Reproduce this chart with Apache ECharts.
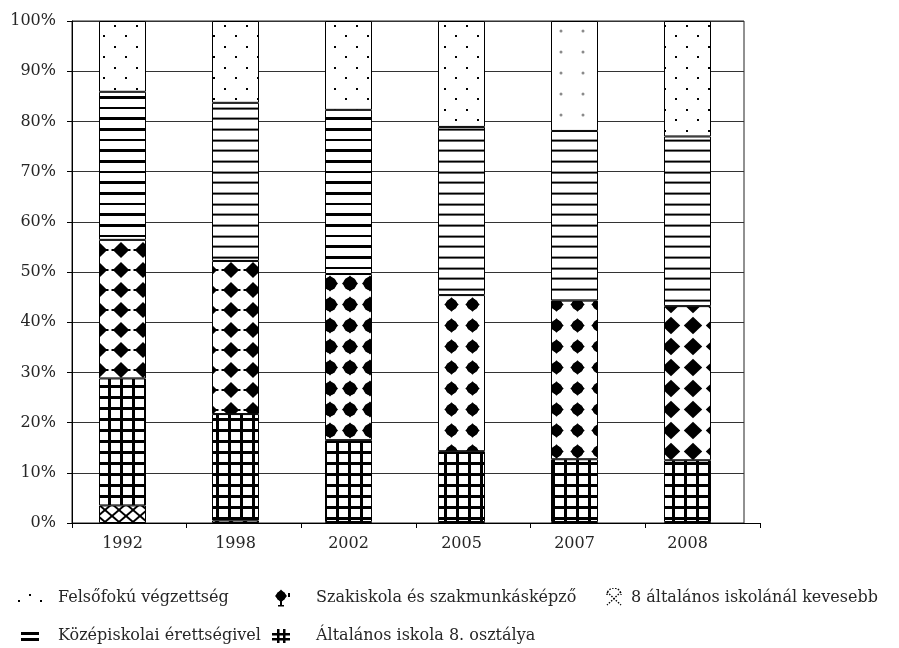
<!DOCTYPE html>
<html>
<head>
<meta charset="utf-8">
<script src="https://cdn.jsdelivr.net/npm/echarts@6/dist/echarts.min.js"></script>
<style>html,body{margin:0;padding:0;background:#fff}#c{width:899px;height:648px}</style>
</head>
<body>
<div id="c"></div>
<script>
// ---- data (percent shares) ----
const years = ['1992', '1998', '2002', '2005', '2007', '2008'];
const below8 = [3.5, 0.5, 0.2, 0.2, 0.2, 0.2];          // 8 általános iskolánál kevesebb
const general8 = [25.3, 21.2, 16.3, 14.1, 12.5, 12.3];  // Általános iskola 8. osztálya
const vocational = [27.6, 30.5, 33.1, 31.1, 31.6, 30.7];// Szakiskola és szakmunkásképző
const secondary = [29.5, 31.5, 32.7, 33.5, 33.8, 33.8]; // Középiskolai érettségivel
const tertiary = [14.1, 16.3, 17.7, 21.1, 21.9, 23.0];  // Felsőfokú végzettség
const yTickValues = [0, 10, 20, 30, 40, 50, 60, 70, 80, 90, 100];

const names = {
  tertiary: 'Felsőfokú végzettség',
  secondary: 'Középiskolai érettségivel',
  vocational: 'Szakiskola és szakmunkásképző',
  general8: 'Általános iskola 8. osztálya',
  below8: '8 általános iskolánál kevesebb'
};

// ---- pattern helpers ----
function tile(w, h, fn) {
  const c = document.createElement('canvas');
  c.width = w; c.height = h;
  const g = c.getContext('2d');
  g.fillStyle = '#fff'; g.fillRect(0, 0, w, h);
  g.fillStyle = '#000'; g.strokeStyle = '#000';
  fn(g, w, h);
  return { image: c, repeat: 'repeat' };
}
function diamond(g, cx, cy, hw, hh) {
  g.beginPath();
  g.moveTo(cx, cy - hh); g.lineTo(cx + hw, cy); g.lineTo(cx, cy + hh); g.lineTo(cx - hw, cy);
  g.closePath(); g.fill();
}
function diamondAt(g, w, h, cx, cy, hw, hh) {
  for (const dx of [-w, 0, w]) for (const dy of [-h, 0, h]) diamond(g, cx + dx, cy + dy, hw, hh);
}

const felsoDots = tile(22, 21, g => { g.fillRect(4, 4, 2, 2); g.fillRect(15, 14, 2, 2); });
const felsoGray = tile(22, 21, g => {
  g.fillStyle = '#8a8a8a'; g.beginPath(); g.arc(11, 10, 1.5, 0, Math.PI * 2); g.fill();
});
const kozepThick = tile(10, 32, (g, w) => {
  g.fillRect(0, 0, w, 3); g.fillRect(0, 11, w, 2); g.fillRect(0, 21, w, 3);
});
const kozepSoft = tile(10, 32, (g, w) => {
  for (const y of [0, 11, 21]) {
    g.fillStyle = '#999'; g.fillRect(0, y, w, 1);
    g.fillStyle = '#000'; g.fillRect(0, y + 1, w, 1);
    g.fillStyle = '#666'; g.fillRect(0, y + 2, w, 1);
  }
});
const szakArms = tile(22, 20, (g, w, h) => {
  diamondAt(g, w, h, 11, 10, 8.2, 8);
  g.fillRect(1.5, 9, 19, 2);
});
const szakBlobBig = tile(20, 21, (g, w, h) => {
  diamondAt(g, w, h, 10, 10.5, 8, 8);
  g.beginPath(); g.arc(10, 10.5, 6.6, 0, Math.PI * 2); g.fill();
});
const szakBlob = tile(21, 21, (g, w, h) => {
  diamondAt(g, w, h, 10.5, 10.5, 7.2, 7.2);
  g.beginPath(); g.arc(10.5, 10.5, 5.8, 0, Math.PI * 2); g.fill();
});
const szakChecker = tile(22, 21, (g, w, h) => {
  diamondAt(g, w, h, 11, 10.5, 9.2, 8.8);
});
const altGrid = tile(12, 11, (g, w, h) => { g.fillRect(0, 0, 3, h); g.fillRect(0, 0, w, 3); });
const below8Pat = tile(14, 12, (g, w, h) => {
  g.lineWidth = 2;
  for (const dx of [-w, 0, w]) {
    g.beginPath(); g.moveTo(dx, 0); g.lineTo(dx + w, h); g.stroke();
    g.beginPath(); g.moveTo(dx + w, 0); g.lineTo(dx, h); g.stroke();
  }
});

const pats = {
  tertiary: [felsoDots, felsoDots, felsoDots, felsoDots, felsoGray, felsoDots],
  secondary: [kozepThick, kozepSoft, kozepThick, kozepSoft, kozepSoft, kozepSoft],
  vocational: [szakArms, szakArms, szakBlobBig, szakBlob, szakBlob, szakChecker],
  general8: years.map(() => altGrid),
  below8: years.map(() => below8Pat)
};

// ---- legend icons ----
function icon(w, h, fn) {
  const c = document.createElement('canvas');
  c.width = w; c.height = h;
  const g = c.getContext('2d');
  g.fillStyle = '#000'; g.strokeStyle = '#000';
  fn(g);
  return 'image://' + c.toDataURL();
}
const iconTertiary = icon(36, 20, g => { g.fillRect(1, 12, 2, 2); g.fillRect(12, 6, 2, 2); g.fillRect(23, 12, 2, 2); });
const iconSecondary = icon(36, 20, g => { g.fillRect(4, 6, 18, 3); g.fillRect(4, 12, 18, 3); });
const iconVocational = icon(40, 20, g => {
  diamond(g, 10, 8, 6, 6.5);
  g.beginPath(); g.arc(10, 8, 4.8, 0, Math.PI * 2); g.fill();
  g.fillRect(9, 13, 2, 4); g.fillRect(7, 17, 6, 1.5); g.fillRect(17, 5, 2, 4);
});
const iconGeneral8 = icon(40, 20, g => {
  g.fillRect(6, 3, 2.5, 14); g.fillRect(12, 3, 2.5, 14);
  g.fillRect(1, 7, 18, 2.5); g.fillRect(1, 12, 18, 2.5);
});
const iconBelow8 = icon(36, 20, g => {
  g.lineWidth = 1.4; g.setLineDash([1.5, 1.5]);
  g.beginPath(); g.moveTo(17, 4); g.lineTo(31, 17); g.stroke();
  g.beginPath(); g.moveTo(31, 4); g.lineTo(17, 17); g.stroke();
  g.beginPath(); g.arc(24, 7, 7, Math.PI, 0); g.stroke();
});

// ---- chart ----
const font = 'DejaVu Serif';
const txt = { fontFamily: font, fontSize: 16, color: '#262626' };

function barSeries(key, values) {
  return {
    name: names[key], type: 'bar', stack: 'total', xAxisIndex: 0, yAxisIndex: 0,
    barWidth: 47,
    itemStyle: { borderColor: '#000', borderWidth: 1 },
    emphasis: { disabled: true },
    data: values.map((v, i) => ({ value: v, itemStyle: { color: pats[key][i] } }))
  };
}

const chart = echarts.init(document.getElementById('c'), null, { renderer: 'canvas' });
chart.setOption({
  animation: false,
  backgroundColor: '#fff',
  grid: [
    { left: 66, width: 678, top: 21, height: 502 },                                       // bars
    { left: 72, width: 672, top: 21, height: 502, show: true, borderColor: '#222', borderWidth: 1 }, // frame + y axis
    { left: 72, width: 688, top: 21, height: 502 }                                        // x axis line
  ],
  xAxis: [
    { type: 'category', gridIndex: 0, data: years, axisLine: { show: false }, axisTick: { show: false },
      axisLabel: Object.assign({ margin: 13 }, txt) },
    { type: 'category', gridIndex: 1, data: years, show: false },
    { type: 'category', gridIndex: 2, data: years.map(() => ''),
      axisLine: { show: true, lineStyle: { color: '#000', width: 1 } },
      axisTick: { show: true, length: 5, interval: 0, lineStyle: { color: '#000' } },
      axisLabel: { show: false } }
  ],
  yAxis: [
    { type: 'value', gridIndex: 0, min: 0, max: 100, show: false },
    { type: 'value', gridIndex: 1, min: yTickValues[0], max: yTickValues[yTickValues.length - 1], interval: 10,
      axisLine: { show: true, lineStyle: { color: '#000', width: 1 } },
      axisTick: { show: true, length: 5, lineStyle: { color: '#000' } },
      splitLine: { show: true, lineStyle: { color: '#333', width: 1 } },
      axisLabel: Object.assign({ margin: 16, formatter: '{value}%' }, txt) },
    { type: 'value', gridIndex: 2, min: 0, max: 100, show: false }
  ],
  legend: [
    { left: 17, top: 588, orient: 'vertical', padding: 0, itemWidth: 36, itemHeight: 20, itemGap: 18,
      selectedMode: false, textStyle: txt,
      data: [{ name: names.tertiary, icon: iconTertiary }, { name: names.secondary, icon: iconSecondary }] },
    { left: 271, top: 588, orient: 'vertical', padding: 0, itemWidth: 40, itemHeight: 20, itemGap: 18,
      selectedMode: false, textStyle: txt,
      data: [{ name: names.vocational, icon: iconVocational }, { name: names.general8, icon: iconGeneral8 }] },
    { left: 590, top: 588, orient: 'vertical', padding: 0, itemWidth: 36, itemHeight: 20, itemGap: 18,
      selectedMode: false, textStyle: txt,
      data: [{ name: names.below8, icon: iconBelow8 }] }
  ],
  series: [
    barSeries('below8', below8),
    barSeries('general8', general8),
    barSeries('vocational', vocational),
    barSeries('secondary', secondary),
    barSeries('tertiary', tertiary)
  ]
});
</script>
</body>
</html>
